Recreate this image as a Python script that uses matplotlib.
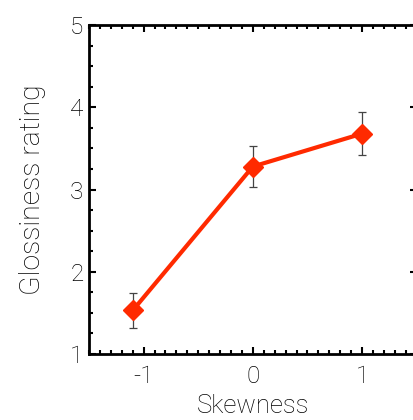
import numpy as np
import matplotlib
matplotlib.use("Agg")
import matplotlib.pyplot as plt
from matplotlib.ticker import MultipleLocator

# data
skew = [-1.1, 0.0, 1.0]
gloss = [1.53, 3.28, 3.68]
err = [0.21, 0.25, 0.265]

plt.rcParams['font.family'] = ['Roboto', 'Liberation Sans', 'DejaVu Sans']
plt.rcParams['font.weight'] = 'light'
plt.rcParams['axes.labelweight'] = 'light'

fig = plt.figure(figsize=(4.14, 4.20), dpi=100)
ax = fig.add_axes([0.215, 0.157, 0.7915, 0.7833])

ax.errorbar(skew, gloss, yerr=err, fmt='none', ecolor='#444444',
            elinewidth=0.9, capsize=3, capthick=0.9, zorder=2)
ax.plot(skew, gloss, '-', color='#ff2a00', lw=3, marker='D', ms=10,
        mec='#ff2a00', mfc='#ff2a00', zorder=3)

ax.set_xlim(-1.5, 1.5)
ax.set_ylim(1, 5)
ax.set_xticks([-1, 0, 1])
ax.set_xticklabels(['-1', '0', '1'])
ax.set_yticks([1, 2, 3, 4, 5])
ax.xaxis.set_minor_locator(MultipleLocator(0.1))
ax.yaxis.set_minor_locator(MultipleLocator(0.25))

ax.tick_params(which='both', direction='in', top=True, right=True,
               width=1.5, labelsize=17.5, labelcolor='black')
ax.tick_params(axis='x', pad=8)
ax.tick_params(axis='y', pad=4)
ax.tick_params(which='major', length=5)
ax.tick_params(which='minor', length=3)
for s in ax.spines.values():
    s.set_linewidth(2)

ax.set_xlabel('Skewness', fontsize=18.5, labelpad=4, color='black')
ax.set_ylabel('Glossiness rating', fontsize=20.5, labelpad=17, color='black')

fig.savefig('out.png', dpi=100)
